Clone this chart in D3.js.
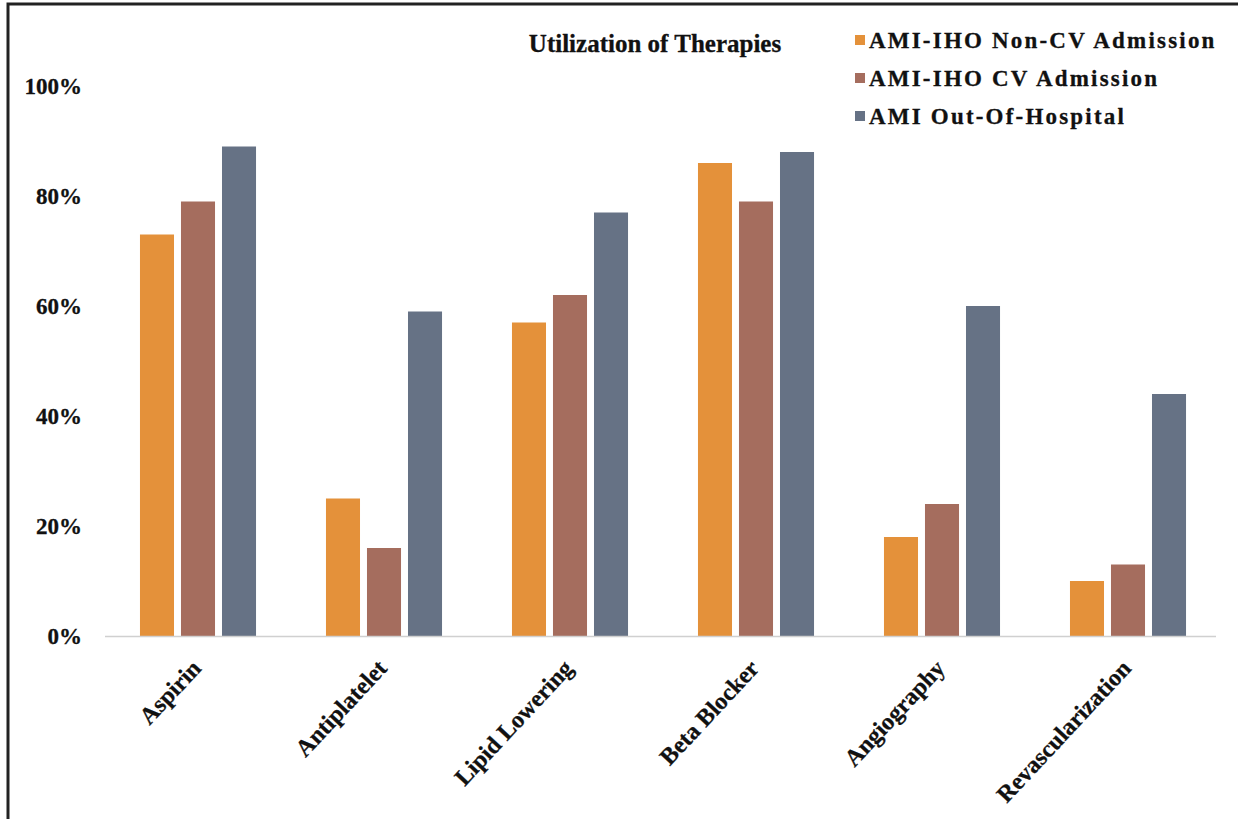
<!DOCTYPE html>
<html>
<head>
<meta charset="utf-8">
<script src="https://cdn.jsdelivr.net/npm/d3@7"></script>
<style>
  body { margin: 0; background: #fff; }
  svg text { font-family: "Liberation Serif", "Times New Roman", serif; font-weight: bold; fill: #111; stroke: #111; stroke-width: 0.3px; }
</style>
</head>
<body>
<div id="chart"></div>
<script>
const categories = ['Aspirin', 'Antiplatelet', 'Lipid Lowering', 'Beta Blocker', 'Angiography', 'Revascularization']
const seriesNames = ['AMI-IHO Non-CV Admission', 'AMI-IHO CV Admission', 'AMI Out-Of-Hospital']
const nonCv = [73, 25, 57, 86, 18, 10]
const cvAdm = [79, 16, 62, 79, 24, 13]
const outHosp = [89, 59, 77, 88, 60, 44]
const yTicks = [0, 20, 40, 60, 80, 100]
const colors = ['#e4913a', '#a56d5e', '#667285']

const width = 1238
const height = 819

const rows = categories.map(function (c, i) {
  return { cat: c, vals: [nonCv[i], cvAdm[i], outHosp[i]] }
})

const svg = d3.select('#chart')
  .append('svg')
  .attr('width', width)
  .attr('height', height)

// frame
svg.append('rect')
  .attr('x', 8).attr('y', 4)
  .attr('width', width + 10).attr('height', height + 10)
  .attr('fill', 'none')
  .attr('stroke', '#222')
  .attr('stroke-width', 3)

const x0 = d3.scaleBand().domain(categories).range([105, 1221]).paddingInner(0.376).paddingOuter(0.188)
const x1 = d3.scaleBand().domain([0, 1, 2]).range([0, x0.bandwidth()]).paddingInner(0.17)
const y = d3.scaleLinear().domain([0, 100]).range([636, 86])

// y labels
svg.append('g')
  .selectAll('text')
  .data(yTicks)
  .enter().append('text')
  .attr('x', 82)
  .attr('y', function (d) { return y(d) })
  .attr('dy', '0.35em')
  .attr('text-anchor', 'end')
  .attr('font-size', '23px')
  .text(function (d) { return d + '%' })

// bars
const groups = svg.append('g')
  .selectAll('g')
  .data(rows)
  .enter().append('g')
  .attr('transform', function (d) { return 'translate(' + x0(d.cat) + ',0)' })

groups.selectAll('rect')
  .data(function (d) { return d.vals })
  .enter().append('rect')
  .attr('x', function (d, i) { return x1(i) })
  .attr('width', x1.bandwidth())
  .attr('y', function (d) { return y(d) })
  .attr('height', function (d) { return y(0) - y(d) })
  .attr('fill', function (d, i) { return colors[i] })

// baseline
svg.append('line')
  .attr('x1', 105).attr('x2', 1216)
  .attr('y1', y(0) + 0.5).attr('y2', y(0) + 0.5)
  .attr('stroke', '#d0d0d0')
  .attr('stroke-width', 1.5)

// category labels
svg.append('g')
  .selectAll('text')
  .data(categories)
  .enter().append('text')
  .attr('transform', function (d) {
    return 'translate(' + (x0(d) + x0.bandwidth() / 2 - 8) + ',658) rotate(-47)'
  })
  .attr('text-anchor', 'end')
  .attr('dy', '0.7em')
  .attr('font-size', '24px')
  .text(function (d) { return d })

// title
svg.append('text')
  .attr('x', 655)
  .attr('y', 52)
  .attr('text-anchor', 'middle')
  .attr('font-size', '25px')
  .text('Utilization of Therapies')

// legend
const legend = svg.append('g')
  .selectAll('g')
  .data(seriesNames)
  .enter().append('g')
  .attr('transform', function (d, i) { return 'translate(855,' + (40 + i * 38) + ')' })

legend.append('rect')
  .attr('x', 0).attr('y', -5)
  .attr('width', 10).attr('height', 10)
  .attr('fill', function (d, i) { return colors[i] })

legend.append('text')
  .attr('x', 14)
  .attr('dy', '0.35em')
  .attr('font-size', '23px')
  .attr('letter-spacing', '2.2px')
  .text(function (d) { return d })
</script>
</body>
</html>
